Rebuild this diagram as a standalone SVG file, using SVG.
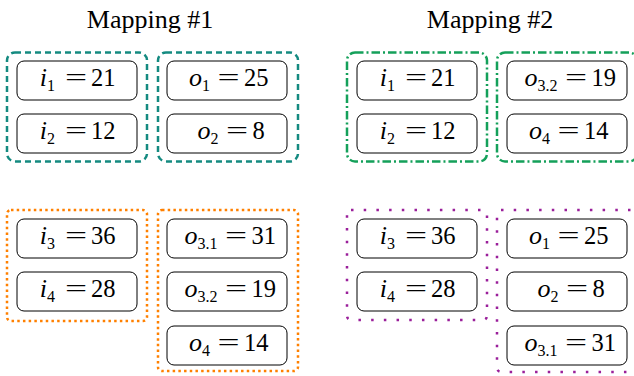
<svg xmlns="http://www.w3.org/2000/svg" width="634" height="376" viewBox="0 0 634 376">
<style>
text{font-family:'Liberation Serif','Times New Roman',serif;fill:#000}
.title{font-size:26px;text-anchor:middle}
.box{fill:#fff;stroke:#000;stroke-width:1}
.v{font-size:26px;font-style:italic;text-anchor:end}
.s{font-style:normal;font-size:16px}
.n{font-size:24.5px}
.eq{text-anchor:middle}
.grp{fill:none;stroke-width:2.5}
.teal{stroke:#148a80;stroke-dasharray:6 4}
.green{stroke:#14a05a;stroke-dasharray:8.5 3 2 3}
.orange{stroke:#ff8000;stroke-dasharray:2.5 3.2}
.purple{stroke:#9a1f9a;stroke-dasharray:2.5 10.2}
</style>
<text class="title" x="150" y="28">Mapping #1</text>
<text class="title" x="490" y="28">Mapping #2</text>

<g id="groups">
<rect id="m1-in-a" class="grp teal" x="7" y="52.5" width="140" height="109" rx="8"/>
<rect id="m1-out-a" class="grp teal" x="158" y="52.5" width="140" height="109" rx="8"/>
<rect id="m1-in-b" class="grp orange" x="7" y="210" width="140" height="111" rx="4"/>
<rect id="m1-out-b" class="grp orange" x="158" y="210" width="140" height="161" rx="4"/>
<rect id="m2-in-a" class="grp green" x="347" y="52.5" width="140" height="109" rx="8"/>
<rect id="m2-out-a" class="grp green" x="497" y="52.5" width="140" height="109" rx="8"/>
<rect id="m2-in-b" class="grp purple" x="347" y="210" width="140" height="110" rx="4"/>
<rect id="m2-out-b" class="grp purple" x="497" y="210" width="140" height="162" rx="4"/>
</g>

<!-- Mapping 1 -->
<g id="m1-i1"><rect class="box" x="17" y="61" width="120" height="39" rx="7"/>
<text class="v" x="55" y="86">i<tspan class="s" dy="5">1</tspan></text>
<text class="n eq" transform="translate(76,86) scale(1.6,1)">=</text>
<text class="n" x="91" y="86">21</text></g>
<g id="m1-i2"><rect class="box" x="17" y="114" width="120" height="39" rx="7"/>
<text class="v" x="55" y="139">i<tspan class="s" dy="5">2</tspan></text>
<text class="n eq" transform="translate(76,139) scale(1.6,1)">=</text>
<text class="n" x="91" y="139">12</text></g>
<g id="m1-o1"><rect class="box" x="167" y="61" width="120" height="39" rx="7"/>
<text class="v" x="210" y="86">o<tspan class="s" dy="5">1</tspan></text>
<text class="n eq" transform="translate(228.5,86) scale(1.6,1)">=</text>
<text class="n" x="244" y="86">25</text></g>
<g id="m1-o2"><rect class="box" x="167" y="114" width="120" height="39" rx="7"/>
<text class="v" x="218.5" y="139">o<tspan class="s" dy="5">2</tspan></text>
<text class="n eq" transform="translate(237,139) scale(1.6,1)">=</text>
<text class="n" x="252.5" y="139">8</text></g>
<g id="m1-i3"><rect class="box" x="17" y="219" width="120" height="39" rx="7"/>
<text class="v" x="55" y="244">i<tspan class="s" dy="5">3</tspan></text>
<text class="n eq" transform="translate(76,244) scale(1.6,1)">=</text>
<text class="n" x="91" y="244">36</text></g>
<g id="m1-i4"><rect class="box" x="17" y="272" width="120" height="39" rx="7"/>
<text class="v" x="55" y="297">i<tspan class="s" dy="5">4</tspan></text>
<text class="n eq" transform="translate(76,297) scale(1.6,1)">=</text>
<text class="n" x="91" y="297">28</text></g>
<g id="m1-o31"><rect class="box" x="167" y="219" width="120" height="39" rx="7"/>
<text class="v" x="217.5" y="244">o<tspan class="s" dy="5">3.1</tspan></text>
<text class="n eq" transform="translate(236,244) scale(1.6,1)">=</text>
<text class="n" x="251.5" y="244">31</text></g>
<g id="m1-o32"><rect class="box" x="167" y="272" width="120" height="39" rx="7"/>
<text class="v" x="217.5" y="297">o<tspan class="s" dy="5">3.2</tspan></text>
<text class="n eq" transform="translate(236,297) scale(1.6,1)">=</text>
<text class="n" x="251.5" y="297">19</text></g>
<g id="m1-o4"><rect class="box" x="167" y="326" width="120" height="39" rx="7"/>
<text class="v" x="210" y="351">o<tspan class="s" dy="5">4</tspan></text>
<text class="n eq" transform="translate(228.5,351) scale(1.6,1)">=</text>
<text class="n" x="244" y="351">14</text></g>

<!-- Mapping 2 -->
<g id="m2-i1"><rect class="box" x="357" y="61" width="120" height="39" rx="7"/>
<text class="v" x="395" y="86">i<tspan class="s" dy="5">1</tspan></text>
<text class="n eq" transform="translate(416,86) scale(1.6,1)">=</text>
<text class="n" x="431" y="86">21</text></g>
<g id="m2-i2"><rect class="box" x="357" y="114" width="120" height="39" rx="7"/>
<text class="v" x="395" y="139">i<tspan class="s" dy="5">2</tspan></text>
<text class="n eq" transform="translate(416,139) scale(1.6,1)">=</text>
<text class="n" x="431" y="139">12</text></g>
<g id="m2-o32"><rect class="box" x="507" y="61" width="120" height="39" rx="7"/>
<text class="v" x="557.5" y="86">o<tspan class="s" dy="5">3.2</tspan></text>
<text class="n eq" transform="translate(576,86) scale(1.6,1)">=</text>
<text class="n" x="591.5" y="86">19</text></g>
<g id="m2-o4"><rect class="box" x="507" y="114" width="120" height="39" rx="7"/>
<text class="v" x="550" y="139">o<tspan class="s" dy="5">4</tspan></text>
<text class="n eq" transform="translate(568.5,139) scale(1.6,1)">=</text>
<text class="n" x="584" y="139">14</text></g>
<g id="m2-i3"><rect class="box" x="357" y="219" width="120" height="39" rx="7"/>
<text class="v" x="395" y="244">i<tspan class="s" dy="5">3</tspan></text>
<text class="n eq" transform="translate(416,244) scale(1.6,1)">=</text>
<text class="n" x="431" y="244">36</text></g>
<g id="m2-i4"><rect class="box" x="357" y="272" width="120" height="39" rx="7"/>
<text class="v" x="395" y="297">i<tspan class="s" dy="5">4</tspan></text>
<text class="n eq" transform="translate(416,297) scale(1.6,1)">=</text>
<text class="n" x="431" y="297">28</text></g>
<g id="m2-o1"><rect class="box" x="507" y="219" width="120" height="39" rx="7"/>
<text class="v" x="550" y="244">o<tspan class="s" dy="5">1</tspan></text>
<text class="n eq" transform="translate(568.5,244) scale(1.6,1)">=</text>
<text class="n" x="584" y="244">25</text></g>
<g id="m2-o2"><rect class="box" x="507" y="272" width="120" height="39" rx="7"/>
<text class="v" x="558.5" y="297">o<tspan class="s" dy="5">2</tspan></text>
<text class="n eq" transform="translate(577,297) scale(1.6,1)">=</text>
<text class="n" x="592.5" y="297">8</text></g>
<g id="m2-o31"><rect class="box" x="507" y="326" width="120" height="39" rx="7"/>
<text class="v" x="557.5" y="351">o<tspan class="s" dy="5">3.1</tspan></text>
<text class="n eq" transform="translate(576,351) scale(1.6,1)">=</text>
<text class="n" x="591.5" y="351">31</text></g>
</svg>
